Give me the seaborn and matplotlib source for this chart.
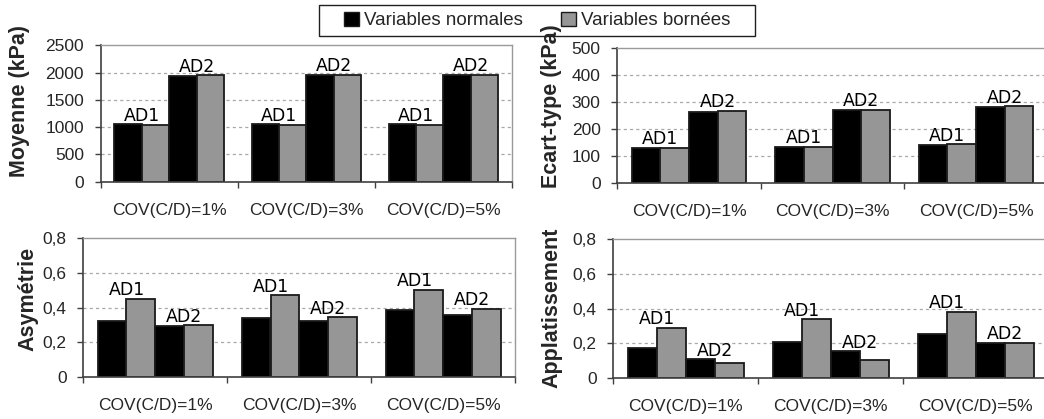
import matplotlib
matplotlib.use("Agg")
import matplotlib.pyplot as plt
from matplotlib.patches import Patch, Rectangle
from matplotlib.ticker import FuncFormatter, FixedLocator
import pandas as pd
import seaborn as sns

sns.set_style("white")
plt.rcParams["font.family"] = ["Liberation Sans", "DejaVu Sans"]

# ---- data -------------------------------------------------------------
cov_labels = ["COV(C/D)=1%", "COV(C/D)=3%", "COV(C/D)=5%"]
series_names = ["Variables normales", "Variables bornées"]
ad_names = ["AD1", "AD2"]

moyenne_ad1_normales = [1055, 1055, 1055]
moyenne_ad1_bornees = [1045, 1045, 1045]
moyenne_ad2_normales = [1945, 1960, 1960]
moyenne_ad2_bornees = [1950, 1960, 1960]

ecart_ad1_normales = [130, 134, 141]
ecart_ad1_bornees = [128, 133, 143]
ecart_ad2_normales = [263, 269, 283]
ecart_ad2_bornees = [267, 272, 285]

asym_ad1_normales = [0.321, 0.342, 0.387]
asym_ad1_bornees = [0.452, 0.473, 0.504]
asym_ad2_normales = [0.292, 0.325, 0.358]
asym_ad2_bornees = [0.298, 0.344, 0.394]

appl_ad1_normales = [0.171, 0.206, 0.254]
appl_ad1_bornees = [0.289, 0.339, 0.380]
appl_ad2_normales = [0.108, 0.152, 0.202]
appl_ad2_bornees = [0.083, 0.104, 0.202]

BLACK = "#000000"
GRAY = "#969696"


def long_table(ad1_n, ad1_b, ad2_n, ad2_b):
    rows = []
    for i, cov in enumerate(cov_labels):
        for key, vals in (("AD1|n", ad1_n), ("AD1|b", ad1_b),
                          ("AD2|n", ad2_n), ("AD2|b", ad2_b)):
            rows.append({"cov": cov, "bar": key, "value": vals[i]})
    return pd.DataFrame(rows)


panels = [
    dict(ylabel="Moyenne (kPa)", ymax=2500, step=500, dec=False,
         data=(moyenne_ad1_normales, moyenne_ad1_bornees,
               moyenne_ad2_normales, moyenne_ad2_bornees),
         box=(100.7, 45.3, 512.0, 181.7), lab=(20, 101), xpad=15.5),
    dict(ylabel="Ecart-type (kPa)", ymax=500, step=100, dec=False,
         data=(ecart_ad1_normales, ecart_ad1_bornees,
               ecart_ad2_normales, ecart_ad2_bornees),
         box=(617.3, 48.3, 1047.8, 182.7), lab=(551, 106), xpad=15.5),
    dict(ylabel="Asymétrie", ymax=0.8, step=0.2, dec=True,
         data=(asym_ad1_normales, asym_ad1_bornees,
               asym_ad2_normales, asym_ad2_bornees),
         box=(83.3, 238.3, 515.3, 377.0), lab=(28, 299), xpad=15),
    dict(ylabel="Applatissement", ymax=0.8, step=0.2, dec=True,
         data=(appl_ad1_normales, appl_ad1_bornees,
               appl_ad2_normales, appl_ad2_bornees),
         box=(613.3, 239.3, 1048.0, 377.7), lab=(552, 308), xpad=15),
]

W, H = 1044, 419
fig = plt.figure(figsize=(W / 100, H / 100), dpi=100)

for p in panels:
    x0, y0, x1, y1 = p["box"]
    ax = fig.add_axes([x0 / W, 1 - y1 / H, (x1 - x0) / W, (y1 - y0) / H])
    df = long_table(*p["data"])
    sns.barplot(data=df, x="cov", y="value", hue="bar",
                hue_order=["AD1|n", "AD1|b", "AD2|n", "AD2|b"],
                palette=[BLACK, GRAY, BLACK, GRAY], width=0.8,
                edgecolor="#1a1a1a", linewidth=1.3, legend=False, ax=ax)

    ax.set_xlim(-0.5, 2.5)
    ax.set_ylim(0, p["ymax"])
    n = int(round(p["ymax"] / p["step"]))
    ticks = [k * p["step"] for k in range(n + 1)]
    ax.set_yticks(ticks)
    if p["dec"]:
        ax.yaxis.set_major_formatter(
            FuncFormatter(lambda v, _: "0" if abs(v) < 1e-9 else f"{v:.1f}".replace(".", ",")))
    else:
        ax.yaxis.set_major_formatter(FuncFormatter(lambda v, _: f"{v:.0f}"))

    for t in ticks[1:-1]:
        ax.axhline(t, color="#a8a8a8", lw=0.9, ls=(0, (2.5, 2.5)), zorder=0.5)

    ax.set_xlabel("")
    ax.set_ylabel(p["ylabel"], fontsize=15.5, fontweight="bold",
                  ha="center", va="center")
    lx, ly = p["lab"]
    ax.yaxis.set_label_coords((lx - x0) / (x1 - x0), (y1 - ly) / (y1 - y0))

    ax.tick_params(axis="y", which="major", direction="out", length=4,
                   width=1, color="#404040", pad=8, labelsize=12.5,
                   left=True)
    ax.tick_params(axis="x", which="major", length=0, pad=p["xpad"],
                   labelsize=12.5)
    ax.xaxis.set_minor_locator(FixedLocator([-0.5, 0.5, 1.5, 2.5]))
    ax.tick_params(axis="x", which="minor", direction="out", length=4,
                   width=1, color="#404040", bottom=True)

    for side in ("left", "bottom"):
        ax.spines[side].set_color("#404040")
        ax.spines[side].set_linewidth(1.2)
    for side in ("top", "right"):
        ax.spines[side].set_color("#9a9a9a")
        ax.spines[side].set_linewidth(1.0)

    # AD1 / AD2 tags centred over each pair of bars
    ad1_n, ad1_b, ad2_n, ad2_b = p["data"]
    for i in range(len(cov_labels)):
        for name, off, a, b in (("AD1", -0.2, ad1_n[i], ad1_b[i]),
                                ("AD2", 0.2, ad2_n[i], ad2_b[i])):
            ax.annotate(name, (i + off, max(a, b)), xytext=(0, 2.5),
                        textcoords="offset points", ha="center",
                        va="baseline", fontsize=12.5,
                        fontfamily="DejaVu Sans", color="black")

# shared legend
handles = [Patch(facecolor=BLACK, edgecolor="#1a1a1a", lw=1.0),
           Patch(facecolor=GRAY, edgecolor="#1a1a1a", lw=1.0)]
fig.legend(handles, series_names, loc="center",
           bbox_to_anchor=(537 / W, 1 - 20.5 / H), ncol=2, frameon=False,
           fontsize=13.5, handlelength=0.8, handleheight=0.8,
           handletextpad=0.3, columnspacing=2.0, borderpad=0.2)
fig.patches.append(Rectangle((319.3 / W, 1 - 36 / H), (755 - 319.3) / W,
                             31 / H, transform=fig.transFigure,
                             facecolor="none", edgecolor="#202020", lw=1.0))

fig.savefig("out.png", dpi=100)
